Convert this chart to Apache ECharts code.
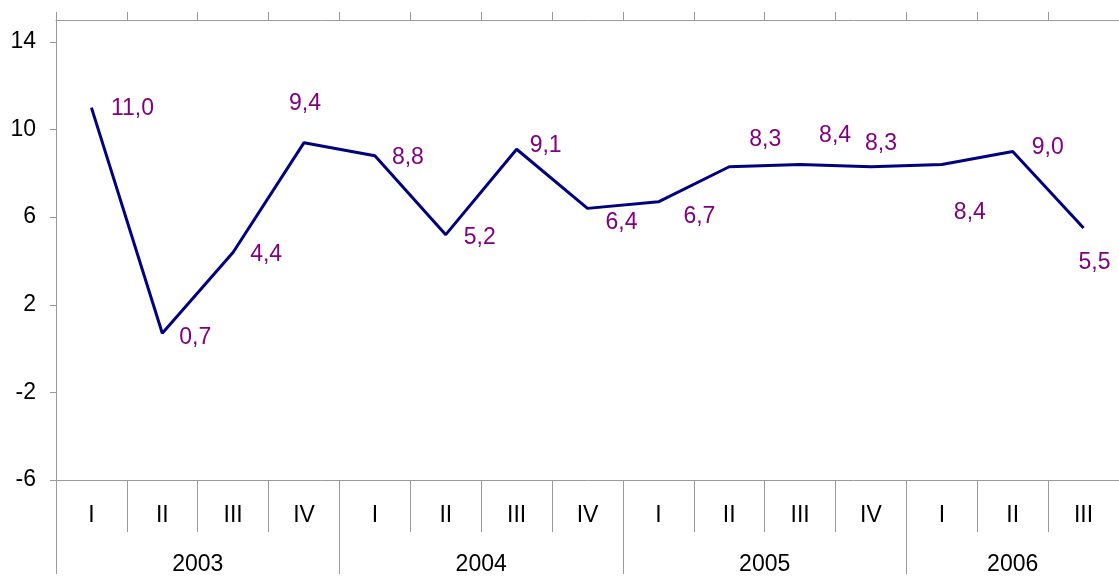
<!DOCTYPE html>
<html>
<head>
<meta charset="utf-8">
<script src="https://cdn.jsdelivr.net/npm/echarts@6/dist/echarts.min.js"></script>
<style>
html,body{margin:0;padding:0;background:#fff;}
#chart{width:1119px;height:576px;}
</style>
</head>
<body>
<div id="chart"></div>
<script>
// quarters and values (growth, %)
var quarters = ['I','II','III','IV','I','II','III','IV','I','II','III','IV','I','II','III'];
var values = [11.0, 0.7, 4.4, 9.4, 8.8, 5.2, 9.1, 6.4, 6.7, 8.3, 8.4, 8.3, 8.4, 9.0, 5.5];
var years = ['2003','2004','2005','2006'];
var quartersPerYear = [4, 4, 4, 3];
var yTicks = [-6, -2, 2, 6, 10, 14];

// label placement relative to the point (style only)
var labelOffsets = [
	[41,1],[33,4],[33,2],[1,-39],[33,2],[34,3],[29,-4],[34,14],
	[41,15],[36,-27],[35,-29],[10,-23],[28,48],[35,-4],[11,35]
];

var yearStarts = [], yearCenters = [];
var acc = 0;
for (var i = 0; i < quartersPerYear.length; i++) {
	yearStarts.push(acc);
	yearCenters.push(acc + quartersPerYear[i] / 2);
	acc += quartersPerYear[i];
}
yearStarts.push(acc);

var gray = '#9a9a9a';
var font = 'Liberation Sans, Arial, sans-serif';
var fs = 23;

var seriesData = values.map(function (v, i) {
	return {
		value: v,
		label: { offset: labelOffsets[i] }
	};
});

var myChart = echarts.init(document.getElementById('chart'));
myChart.setOption({
	animation: false,
	grid: { left: 56, right: 0, top: 20, bottom: 94, containLabel: false },
	xAxis: [{
		type: 'category',
		data: quarters,
		position: 'bottom',
		boundaryGap: true,
		axisLine: { show: true, onZero: false, lineStyle: { color: gray, width: 1 } },
		axisTick: { show: true, length: 52, lineStyle: { color: gray, width: 1 } },
		axisLabel: { color: '#000', fontFamily: font, fontSize: fs, lineHeight: 23, margin: 24, interval: 0 },
		splitLine: { show: false }
	}, {
		type: 'value',
		min: 0,
		max: 15,
		position: 'bottom',
		axisLine: { show: false, onZero: false },
		axisTick: { show: true, length: 94, customValues: yearStarts, lineStyle: { color: gray, width: 1 } },
		axisLabel: {
			color: '#000', fontFamily: font, fontSize: fs, lineHeight: 23, margin: 73,
			customValues: yearCenters,
			formatter: function (v) {
				var k = yearCenters.indexOf(v);
				return k >= 0 ? years[k] : '';
			}
		},
		splitLine: { show: false }
	}, {
		type: 'category',
		data: quarters,
		position: 'top',
		boundaryGap: true,
		axisLine: { show: true, onZero: false, lineStyle: { color: gray, width: 1 } },
		axisTick: { show: true, length: 8, lineStyle: { color: gray, width: 1 } },
		axisLabel: { show: false },
		splitLine: { show: false }
	}],
	yAxis: {
		type: 'value',
		min: -6,
		max: 15,
		axisLine: { show: true, lineStyle: { color: gray, width: 1 } },
		axisTick: { show: true, length: 6, customValues: yTicks, lineStyle: { color: gray, width: 1 } },
		axisLabel: { color: '#000', fontFamily: font, fontSize: fs, margin: 20, customValues: yTicks },
		splitLine: { show: false }
	},
	series: [{
		type: 'line',
		xAxisIndex: 0,
		data: seriesData,
		symbol: 'circle',
		symbolSize: 1,
		showSymbol: true,
		itemStyle: { color: 'rgba(0,0,0,0)' },
		lineStyle: { color: '#000080', width: 3 },
		label: {
			show: true,
			position: 'inside',
			align: 'center',
			verticalAlign: 'middle',
			color: '#800080',
			fontFamily: font,
			fontSize: fs,
			formatter: function (p) {
				return p.value.toFixed(1).replace('.', ',');
			}
		},
		emphasis: { disabled: true }
	}]
});
</script>
</body>
</html>
